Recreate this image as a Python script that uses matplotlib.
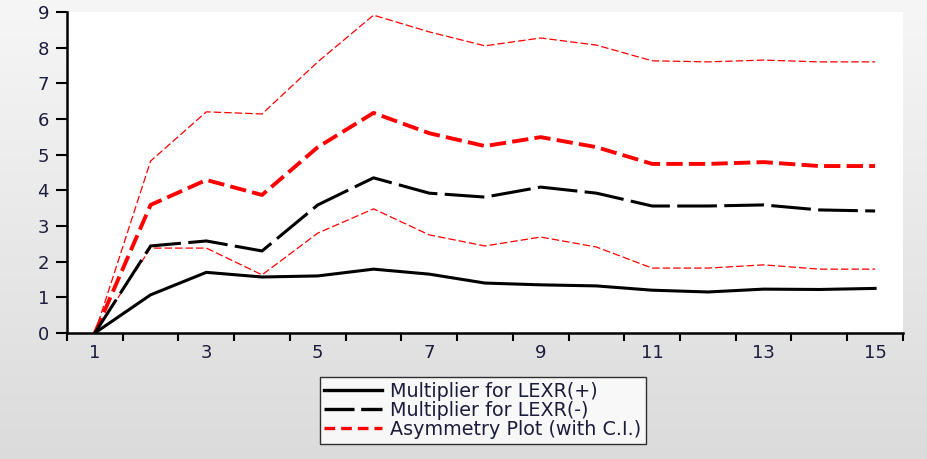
import numpy as np
from matplotlib import pyplot as plt
from matplotlib.lines import Line2D

plt.rcParams['font.family'] = ['DejaVu Sans']

horizon = np.arange(1, 16)

mult_pos = [0.0, 1.07, 1.70, 1.57, 1.60, 1.79, 1.65, 1.40, 1.35, 1.32, 1.20, 1.15, 1.23, 1.22, 1.25]
mult_neg = [0.0, 2.44, 2.58, 2.30, 3.59, 4.35, 3.92, 3.81, 4.09, 3.92, 3.56, 3.56, 3.59, 3.45, 3.42]
asym = [0.0, 3.59, 4.29, 3.87, 5.21, 6.17, 5.60, 5.24, 5.49, 5.21, 4.74, 4.74, 4.79, 4.68, 4.68]
ci_upper = [0.0, 4.82, 6.20, 6.14, 7.60, 8.91, 8.44, 8.05, 8.27, 8.07, 7.63, 7.60, 7.65, 7.60, 7.60]
ci_lower = [0.0, 2.38, 2.38, 1.63, 2.80, 3.48, 2.75, 2.44, 2.69, 2.41, 1.82, 1.82, 1.91, 1.79, 1.79]

legend_labels = ["Multiplier for LEXR(+)", "Multiplier for LEXR(-)", "Asymmetry Plot (with C.I.)"]
text_col = "#1c1c3c"

fig = plt.figure(figsize=(9.28, 4.59), dpi=100)

# grey gradient behind everything
bg = fig.add_axes([0, 0, 1, 1], zorder=-10)
grad = np.linspace(0.965, 0.86, 256).reshape(-1, 1)
bg.imshow(np.dstack([grad, grad, grad]), aspect="auto", extent=[0, 1, 0, 1])
bg.axis("off")

ax = fig.add_axes([0.0722, 0.2745, 0.9008, 0.6995])
ax.set_facecolor("white")

ax.plot(horizon, ci_upper, color="red", lw=0.9, ls=(0, (6, 2.4)))
ax.plot(horizon, ci_lower, color="red", lw=0.9, ls=(0, (6, 2.4)))
ax.plot(horizon, asym, color="red", lw=2.8, ls=(0, (4.2, 1.6)))
ax.plot(horizon, mult_neg, color="black", lw=2.2, ls=(0, (13, 2.4)))
ax.plot(horizon, mult_pos, color="black", lw=2.2)

ax.set_xlim(0.5, 15.5)
ax.set_ylim(0, 9)
ax.set_yticks(range(0, 10))

# ticks sit between periods, labels on odd periods
ax.set_xticks(np.arange(0.5, 16, 1.0))
ax.set_xticklabels([])
ax.set_xticks(np.arange(1, 16, 2), minor=True)
ax.set_xticklabels([str(v) for v in range(1, 16, 2)], minor=True)
ax.tick_params(axis="x", which="minor", length=0, pad=8, labelsize=13, labelcolor=text_col)
ax.tick_params(axis="x", which="major", length=6, width=1.5, direction="out")
ax.tick_params(axis="y", length=8, width=1.5, direction="out", labelsize=13, labelcolor=text_col, pad=5)

for side in ["top", "right"]:
    ax.spines[side].set_visible(False)
for side in ["left", "bottom"]:
    ax.spines[side].set_linewidth(1.8)

handles = [
    Line2D([], [], color="black", lw=2.4),
    Line2D([], [], color="black", lw=2.4, ls=(0, (9, 2))),
    Line2D([], [], color="red", lw=2.4, ls=(0, (3.2, 1.8))),
]
leg = fig.legend(handles, legend_labels, loc="center", bbox_to_anchor=(0.52, 0.106),
                 fontsize=13.8, frameon=True, fancybox=False, handlelength=3.0,
                 handletextpad=0.4, labelspacing=0.0, borderpad=0.25, labelcolor=text_col)
leg.get_frame().set_edgecolor("black")
leg.get_frame().set_linewidth(1.0)

plt.savefig("out.png", dpi=100)
